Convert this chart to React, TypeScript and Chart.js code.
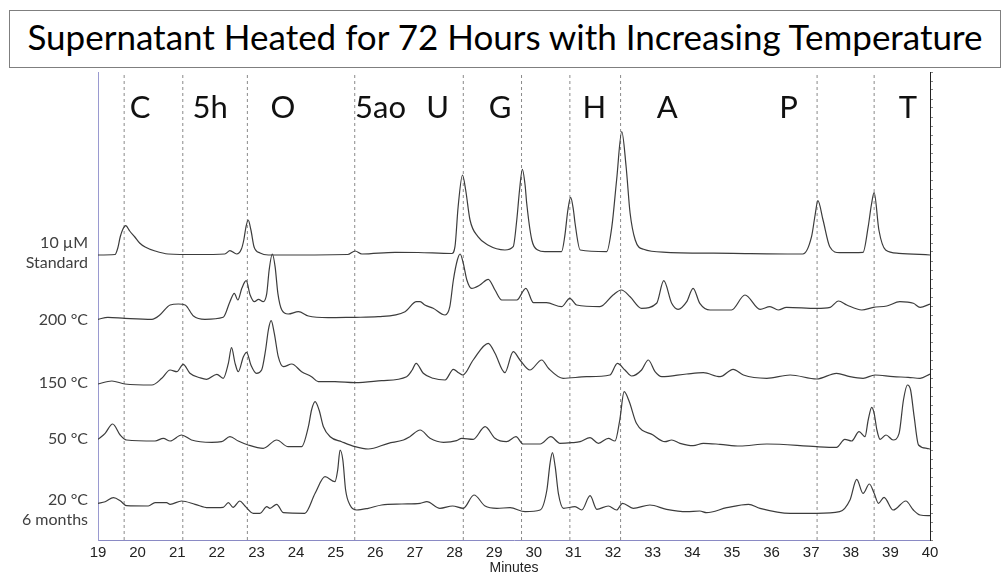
import React, { useEffect, useRef } from 'react';
import { Chart, registerables } from 'chart.js';

Chart.register(...registerables);

const titleText = 'Supernatant Heated for 72 Hours with Increasing Temperature';
const xAxisTitle = 'Minutes';
const minuteMin = 19;
const minuteMax = 40;
const signalMin = 0;
const signalMax = 468;

const peakNames = ['C', '5h', 'O', '5ao', 'U', 'G', 'H', 'A', 'P', 'T'];
const peakNameMinutes = [20.06, 21.83, 23.67, 26.13, 27.57, 29.15, 31.53, 33.37, 36.43, 39.44];
const peakNameLevel = 422;
const markerMinutes = [19.66, 21.14, 22.77, 25.48, 28.22, 29.69, 30.91, 32.19, 37.15, 38.59];

const sampleLabels: (string | string[])[] = [['10 µM', 'Standard'], '200 °C', '150 °C', '50 °C', ['20 °C', '6 months']];
const sampleLabelLevels = [287, 220, 157, 101, 30];

const standardTrace: [number, number][] = [
  [19.0, 285], [19.43, 285.5], [19.5, 292], [19.56, 303], [19.63, 311], [19.7, 314.3], [19.8, 309], [19.93, 303],
  [20.05, 297], [20.19, 293], [20.44, 289], [20.77, 286], [21.5, 285.5], [22.2, 286], [22.33, 289.3], [22.5, 286],
  [22.62, 291], [22.68, 300], [22.73, 312], [22.79, 320], [22.86, 310], [22.94, 293], [23.09, 287], [23.3, 285],
  [25.3, 285.5], [25.49, 289], [25.66, 286], [26.5, 287.7], [27.08, 287.5], [27.93, 286.5], [28.01, 293.3],
  [28.09, 333.3], [28.2, 365], [28.28, 350], [28.39, 320], [28.59, 303.3], [28.84, 295], [29.27, 290], [29.48, 293.3],
  [29.57, 320], [29.64, 350], [29.71, 370.7], [29.78, 355], [29.82, 337], [29.95, 300], [30.1, 290], [30.28, 288.3],
  [30.7, 288.3], [30.78, 303.3], [30.86, 330], [30.93, 342.7], [31.0, 330], [31.04, 317], [31.17, 290], [31.84, 288.3],
  [31.97, 313.3], [32.09, 360], [32.22, 408.3], [32.33, 373.3], [32.43, 327], [32.56, 300], [32.77, 290.7],
  [33.35, 287.7], [35.03, 286.7], [36.79, 286], [37.01, 303.3], [37.1, 325], [37.17, 339.3], [37.3, 320],
  [37.47, 293.3], [37.72, 287.3], [38.31, 287.7], [38.44, 313.3], [38.52, 335], [38.59, 347.3], [38.71, 310],
  [38.88, 290], [39.21, 286.7], [40, 285],
];

const trace200C: [number, number][] = [
  [19.0, 220.7], [19.25, 222.7], [19.68, 221.7], [20.36, 220.7], [20.56, 225], [20.82, 235], [21.03, 236], [21.2, 235],
  [21.41, 224], [21.7, 220.7], [22.16, 222.7], [22.33, 238.3], [22.44, 246.7], [22.53, 240], [22.63, 251.7],
  [22.74, 259.3], [22.84, 245], [22.95, 238.3], [23.05, 240.7], [23.17, 238.3], [23.26, 246.7], [23.32, 270],
  [23.4, 286], [23.47, 273.3], [23.54, 246.7], [23.64, 230], [23.8, 226], [24.06, 228.3], [24.31, 224], [24.81, 222.3],
  [25.49, 222.7], [26.07, 223.3], [26.75, 228.3], [27.04, 238.3], [27.13, 238.3], [27.25, 235], [27.46, 231.7],
  [27.76, 225], [27.88, 233.3], [27.97, 260], [28.07, 280], [28.14, 286], [28.22, 276.7], [28.31, 260], [28.43, 251.7],
  [28.64, 255], [28.85, 260.7], [29.02, 250], [29.19, 240], [29.57, 240], [29.8, 251.7], [29.99, 237.3], [30.32, 237.3],
  [30.7, 233.3], [30.91, 241.7], [31.08, 235], [31.67, 233.3], [32.0, 245], [32.21, 250], [32.43, 243.3], [32.72, 231.7],
  [33.1, 236.7], [33.28, 259.3], [33.48, 236.7], [33.64, 230.7], [33.86, 238.3], [34.02, 251.7], [34.19, 236.7],
  [34.45, 230], [34.99, 230], [35.33, 245], [35.71, 230.7], [35.96, 233.3], [36.17, 230], [36.38, 232.7], [37.14, 231.7],
  [37.48, 232.7], [37.69, 239], [37.9, 235], [38.28, 230], [38.57, 232.7], [38.91, 234], [39.24, 238.3], [39.58, 236.7],
  [39.75, 232.7], [40, 236],
];

const trace150C: [number, number][] = [
  [19.0, 156], [19.35, 159], [19.68, 156], [20.36, 155], [20.61, 161.7], [20.82, 170], [20.99, 168.3], [21.15, 175.7],
  [21.32, 166.7], [21.57, 162.3], [21.74, 160.7], [22.0, 165.7], [22.16, 161.7], [22.29, 176.7], [22.37, 192.3],
  [22.46, 176.7], [22.54, 168.3], [22.67, 183.3], [22.75, 187.7], [22.86, 175], [23.0, 166.7], [23.13, 170],
  [23.23, 190], [23.3, 210], [23.37, 219.3], [23.45, 206.7], [23.55, 183.3], [23.68, 173.3], [23.89, 176],
  [24.14, 168.3], [24.39, 163.3], [24.56, 158.3], [24.98, 158.3], [25.49, 157.3], [26.16, 159.3], [26.79, 163.3],
  [26.93, 170], [27.03, 176.7], [27.21, 166.7], [27.46, 161.7], [27.76, 160], [27.97, 170.7], [28.1, 167.3],
  [28.21, 165], [28.47, 180], [28.85, 196.7], [29.02, 186.7], [29.27, 167.3], [29.48, 188.3], [29.65, 180],
  [29.9, 170], [30.2, 180], [30.37, 171.7], [30.74, 161.7], [31.33, 163.3], [31.92, 165], [32.11, 176.7], [32.3, 170],
  [32.47, 164], [32.72, 170], [32.89, 180], [33.06, 168.3], [33.23, 163.3], [33.86, 166], [34.28, 167.3], [34.7, 163.3],
  [35.03, 170.7], [35.29, 165], [35.88, 161.7], [36.47, 165], [37.14, 161], [37.64, 166.7], [37.98, 163.3],
  [38.31, 161.7], [38.61, 165], [39.07, 163.3], [39.45, 162.7], [39.75, 161.7], [40, 166],
];

const trace50C: [number, number][] = [
  [19.0, 100.7], [19.18, 106.7], [19.37, 116], [19.56, 105], [19.72, 100], [20.44, 99], [20.65, 101.7], [20.82, 99],
  [21.11, 105], [21.36, 100], [21.87, 97.7], [22.12, 98.3], [22.33, 103.3], [22.54, 99], [22.79, 95], [23.17, 91.7],
  [23.51, 100], [23.8, 93.3], [24.14, 93.3], [24.31, 113.3], [24.39, 130], [24.48, 138.3], [24.58, 130], [24.69, 113.3],
  [24.86, 103.3], [25.15, 98.3], [25.49, 93.3], [25.82, 91], [26.33, 96.7], [26.71, 100], [26.87, 103.3], [27.13, 110],
  [27.38, 101.7], [27.72, 97.7], [28.05, 99.3], [28.18, 101.7], [28.47, 100.7], [28.77, 113.3], [29.02, 101.7],
  [29.31, 98.3], [29.55, 103.3], [29.73, 96], [30.16, 96], [30.43, 103.3], [30.66, 96.7], [30.96, 97.3], [31.17, 98.3],
  [31.42, 102.3], [31.63, 96.7], [31.88, 101.7], [32.05, 99], [32.17, 120], [32.28, 148.3], [32.41, 138.3],
  [32.59, 116.7], [33.01, 105], [33.31, 98.3], [33.48, 100], [33.69, 96.7], [34.02, 94.3], [34.28, 96.7], [34.7, 95.7],
  [35.2, 94], [35.88, 96], [37.14, 93.3], [37.64, 92.7], [37.85, 100.7], [38.02, 99], [38.21, 108.3], [38.36, 103.3],
  [38.44, 120], [38.53, 132.7], [38.59, 126.7], [38.66, 110], [38.74, 100.7], [38.89, 105], [39.07, 100], [39.22, 106.7],
  [39.33, 140], [39.43, 155], [39.51, 150], [39.6, 123.3], [39.71, 95], [39.92, 91.7], [40, 91],
];

const trace20C: [number, number][] = [
  [19.0, 36.7], [19.18, 38.3], [19.39, 42.3], [19.56, 39.3], [19.72, 34.3], [20.27, 34], [20.44, 37.3], [20.73, 37.3],
  [20.82, 35.7], [21.11, 39], [21.45, 35.7], [21.78, 32.3], [22.16, 32.7], [22.29, 37.3], [22.41, 32.7], [22.58, 39],
  [22.71, 34], [22.92, 26.7], [23.09, 26.7], [23.26, 33.3], [23.34, 31.7], [23.51, 35.7], [23.68, 27.3], [24.22, 26.7],
  [24.48, 46.7], [24.73, 63.3], [24.98, 58.3], [25.05, 70], [25.11, 90], [25.18, 80], [25.25, 50], [25.36, 35],
  [25.53, 30], [25.82, 31.7], [26.16, 35], [26.67, 36], [27.13, 36.7], [27.3, 38.3], [27.63, 31.7], [27.95, 34],
  [28.22, 31.7], [28.49, 45], [28.77, 34], [29.07, 31.7], [29.4, 32.3], [29.78, 28.3], [30.16, 30], [30.33, 50],
  [30.41, 76.7], [30.47, 87.3], [30.54, 73.3], [30.62, 46.7], [30.75, 31.7], [31.04, 33.3], [31.21, 30], [31.42, 44.3],
  [31.59, 30.7], [31.88, 34], [32.09, 30], [32.24, 36.7], [32.51, 31.7], [32.93, 35], [33.35, 30.7], [33.86, 28.3],
  [34.19, 29], [34.36, 27.3], [34.87, 32.3], [35.42, 35.7], [35.71, 31.7], [36.47, 26.7], [37.14, 26.7], [37.72, 28.3],
  [37.98, 40], [38.15, 60.7], [38.31, 46.7], [38.47, 56], [38.59, 46.7], [38.7, 36.7], [38.84, 42.7], [39.07, 30],
  [39.39, 39], [39.58, 30], [39.75, 25], [40, 24.3],
];

const traces = [standardTrace, trace200C, trace150C, trace50C, trace20C];

const calibriLike = 'Lato, "Open Sans", "Noto Sans", sans-serif';
const arialLike = '"Liberation Sans", Arial, sans-serif';

const peakLabelPlugin = {
  id: 'peakLabels',
  afterDatasetsDraw(chart: any) {
    const { ctx, scales } = chart;
    const x = scales.x;
    const y = scales.y;
    ctx.save();
    ctx.font = `31px ${calibriLike}`;
    ctx.fillStyle = '#111';
    ctx.textAlign = 'center';
    ctx.textBaseline = 'alphabetic';
    peakNames.forEach((name, i) => {
      ctx.fillText(name, x.getPixelForValue(peakNameMinutes[i]), y.getPixelForValue(peakNameLevel));
    });
    ctx.restore();
  },
};

export default function App() {
  const canvasRef = useRef<HTMLCanvasElement>(null);

  useEffect(() => {
    const canvas = canvasRef.current;
    if (!canvas) return;

    const markerSets = markerMinutes.map((m) => ({
      data: [{ x: m, y: signalMin }, { x: m, y: signalMax }],
      borderColor: '#8a8a8a',
      borderWidth: 1,
      borderDash: [3, 3],
      pointRadius: 0,
      fill: false,
      order: 2,
    }));

    const traceSets = traces.map((t) => ({
      data: t.map(([m, v]) => ({ x: m, y: v })),
      borderColor: '#3c3c3c',
      borderWidth: 1.2,
      pointRadius: 0,
      fill: false,
      cubicInterpolationMode: 'monotone' as const,
      order: 1,
    }));

    const chart = new Chart(canvas, {
      type: 'line',
      data: { datasets: [...markerSets, ...traceSets] as any },
      plugins: [peakLabelPlugin],
      options: {
        animation: false,
        responsive: false,
        devicePixelRatio: 1,
        layout: { padding: { top: 72, right: 69, left: 0, bottom: 0 } },
        plugins: { legend: { display: false }, tooltip: { enabled: false }, title: { display: false } },
        scales: {
          x: {
            type: 'linear',
            min: minuteMin,
            max: minuteMax,
            grid: { display: false, drawTicks: false },
            border: { color: '#8a8ac4', width: 1 },
            ticks: {
              stepSize: 1,
              autoSkip: false,
              maxRotation: 0,
              padding: 4,
              color: '#222',
              font: { family: arialLike, size: 15 },
            },
            title: {
              display: true,
              text: xAxisTitle,
              color: '#222',
              font: { family: arialLike, size: 14, lineHeight: 1 },
              padding: { top: 0, bottom: 0 },
            },
            afterFit(scale: any) {
              scale.height = 35;
            },
          },
          y: {
            type: 'linear',
            position: 'left',
            min: signalMin,
            max: signalMax,
            grid: { display: false, drawTicks: false },
            border: { color: '#9a9ad0', width: 1 },
            afterBuildTicks(scale: any) {
              scale.ticks = sampleLabelLevels.map((v) => ({ value: v }));
            },
            ticks: {
              autoSkip: false,
              padding: 10,
              color: '#404040',
              font: { family: calibriLike, size: 16, lineHeight: 1.25 },
              callback: (_v: any, i: number) => sampleLabels[i],
            },
            afterFit(scale: any) {
              scale.width = 98;
            },
          },
          y2: {
            type: 'linear',
            position: 'right',
            min: signalMin,
            max: signalMax,
            grid: { drawOnChartArea: false, drawTicks: true, tickLength: 3, color: '#888' },
            border: { color: '#222', width: 1 },
            ticks: { display: false, stepSize: 9, autoSkip: false },
            afterFit(scale: any) {
              scale.width = 4;
            },
          },
        },
      },
    });

    return () => chart.destroy();
  }, []);

  return (
    <div style={{ position: 'fixed', left: 0, top: 0, width: 1003, height: 575, background: '#fff' }}>
      <canvas
        ref={canvasRef}
        width={1003}
        height={575}
        style={{ position: 'absolute', left: 0, top: 0, width: 1003, height: 575 }}
      />
      <div
        style={{
          position: 'absolute',
          left: 9,
          top: 10,
          width: 990,
          height: 56,
          border: '1px solid #7f7f7f',
          textAlign: 'center',
          fontFamily: calibriLike,
          fontSize: 35,
          lineHeight: '50px',
          color: '#000',
          whiteSpace: 'nowrap',
          overflow: 'hidden',
          background: '#fff',
        }}
      >
        {titleText}
      </div>
    </div>
  );
}
